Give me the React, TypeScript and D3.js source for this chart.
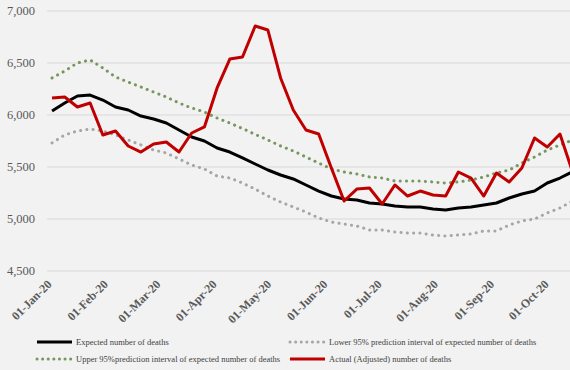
import React from "react";
import * as d3 from "d3";

const startDate = Date.UTC(2020, 0, 3);
const weekCount = 42;
const weeks: Date[] = d3.range(weekCount).map((i) => d3.utcDay.offset(new Date(startDate), 7 * i));

const expected = [6038, 6115, 6183, 6192, 6144, 6077, 6048, 5990, 5962, 5923, 5856, 5788, 5750, 5683, 5644, 5587, 5529, 5471, 5423, 5385, 5327, 5269, 5221, 5192, 5183, 5154, 5144, 5125, 5115, 5115, 5096, 5087, 5106, 5115, 5135, 5154, 5202, 5240, 5269, 5346, 5394, 5455];
const lower95 = [5731, 5808, 5846, 5865, 5846, 5808, 5760, 5712, 5663, 5635, 5577, 5519, 5481, 5413, 5394, 5346, 5288, 5221, 5163, 5115, 5067, 5010, 4971, 4952, 4933, 4894, 4894, 4875, 4865, 4865, 4846, 4837, 4846, 4856, 4885, 4885, 4942, 4981, 5000, 5058, 5106, 5173];
const upper95 = [6356, 6423, 6500, 6529, 6452, 6365, 6317, 6269, 6221, 6173, 6115, 6067, 6029, 5971, 5923, 5870, 5813, 5760, 5702, 5654, 5596, 5538, 5481, 5452, 5433, 5404, 5394, 5365, 5365, 5365, 5356, 5346, 5356, 5375, 5404, 5442, 5471, 5538, 5596, 5663, 5712, 5760];
const actual = [6163, 6173, 6077, 6115, 5808, 5846, 5702, 5644, 5721, 5740, 5644, 5827, 5885, 6260, 6538, 6558, 6856, 6817, 6356, 6048, 5856, 5817, 5490, 5173, 5288, 5298, 5144, 5327, 5221, 5269, 5231, 5221, 5452, 5394, 5221, 5442, 5356, 5490, 5779, 5692, 5817, 5450];

const yTicks = [4500, 5000, 5500, 6000, 6500, 7000];
const monthTicks: Date[] = d3.range(10).map((m) => new Date(Date.UTC(2020, m, 1)));

const legendItems = [
  { label: "Expected number of deaths", color: "#000000", dotted: false, col: 0, row: 0 },
  { label: "Lower 95% prediction interval of expected number of deaths", color: "#a6a6a6", dotted: true, col: 1, row: 0 },
  { label: "Upper 95%prediction interval of expected number of deaths", color: "#77975f", dotted: true, col: 0, row: 1 },
  { label: "Actual (Adjusted) number of deaths", color: "#c00000", dotted: false, col: 1, row: 1 },
];

export default function App() {
  const W = 570;
  const H = 370;
  const pxPerDay = 1.814;
  const x0 = 48.4;
  const x = d3
    .scaleUtc()
    .domain([new Date(Date.UTC(2020, 0, 1)), new Date(Date.UTC(2020, 9, 1))])
    .range([x0, x0 + 274 * pxPerDay]);
  const y = d3.scaleLinear().domain([4500, 7000]).range([271, 11]);

  const line = (vals: number[]) =>
    d3
      .line<number>()
      .x((_, i) => x(weeks[i]))
      .y((v) => y(v))(vals) || "";

  const fmt = d3.format(",");
  const series = [
    { vals: lower95, color: "#a6a6a6", dotted: true },
    { vals: upper95, color: "#77975f", dotted: true },
    { vals: expected, color: "#000000", dotted: false },
    { vals: actual, color: "#c00000", dotted: false },
  ];

  return (
    <svg
      width={W}
      height={H}
      style={{ position: "absolute", left: 0, top: 0, background: "#f2f2f2" }}
      fontFamily="'Liberation Serif', 'Times New Roman', serif"
    >
      <rect x={0} y={0} width={W} height={H} fill="#f2f2f2" />
      {yTicks.map((t) => (
        <g key={t}>
          <line x1={47} x2={W} y1={y(t)} y2={y(t)} stroke="#d9d9d9" strokeWidth={1} />
          <text x={35} y={y(t) + 4} textAnchor="end" fontSize={12.5} fill="#595959">
            {fmt(t)}
          </text>
        </g>
      ))}
      {monthTicks.map((d, i) => (
        <text
          key={i}
          transform={`translate(${x(d) + 4},${285}) rotate(-45)`}
          textAnchor="end"
          fontSize={12}
          fontWeight="bold"
          fill="#595959"
        >
          {d3.utcFormat("%d-%b-%y")(d)}
        </text>
      ))}
      {series.map((s, i) => (
        <path
          key={i}
          d={line(s.vals)}
          fill="none"
          stroke={s.color}
          strokeWidth={s.dotted ? 3 : 3}
          strokeDasharray={s.dotted ? "0.1 6.2" : undefined}
          strokeLinecap={s.dotted ? "round" : "butt"}
          strokeLinejoin="round"
        />
      ))}
      {legendItems.map((it, i) => {
        const lx = it.col === 0 ? 37 : 290;
        const ly = it.row === 0 ? 342 : 359;
        return (
          <g key={i}>
            <line
              x1={lx}
              x2={lx + 35}
              y1={ly}
              y2={ly}
              stroke={it.color}
              strokeWidth={3}
              strokeDasharray={it.dotted ? "0.1 5.5" : undefined}
              strokeLinecap={it.dotted ? "round" : "butt"}
            />
            <text x={lx + 39} y={ly + 3} fontSize={8.5} fill="#404040">
              {it.label}
            </text>
          </g>
        );
      })}
    </svg>
  );
}
